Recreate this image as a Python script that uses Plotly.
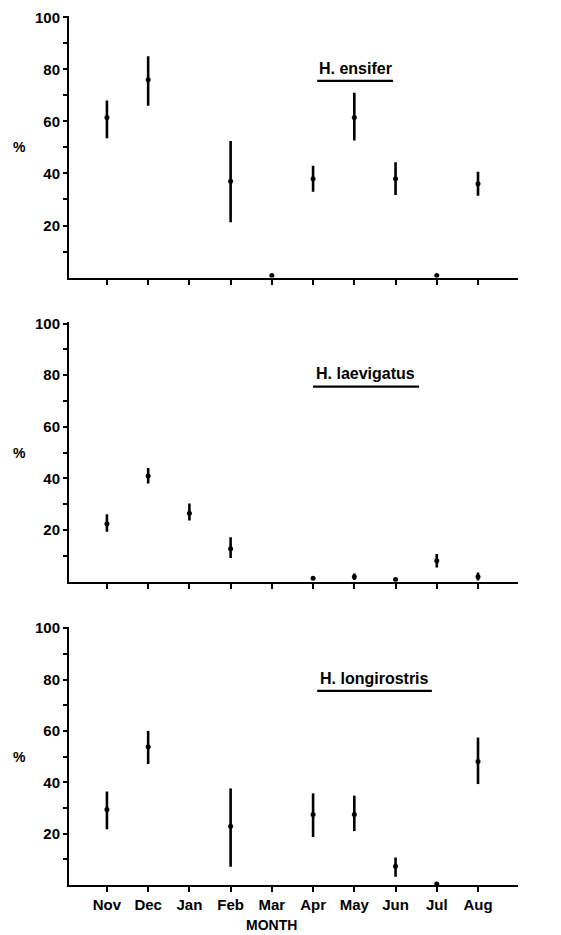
import plotly.graph_objects as go
from plotly.subplots import make_subplots

months = ["Nov", "Dec", "Jan", "Feb", "Mar", "Apr", "May", "Jun", "Jul", "Aug"]
y_ticks = [20, 40, 60, 80, 100]

species = ["H. ensifer", "H. laevigatus", "H. longirostris"]

ensifer_val = [61.5, 76, None, 37, 0.8, 38, 61.5, 38, 0.8, 36]
ensifer_up = [6.5, 9, None, 15.5, 0, 5, 9.5, 6.3, 0, 4.7]
ensifer_dn = [8, 10, None, 15.7, 0, 5, 8.8, 6.3, 0, 4.6]

laevigatus_val = [22.5, 41, 26.5, 12.8, None, 1.3, 1.9, 0.9, 8.1, 1.9]
laevigatus_up = [3.6, 3.1, 3.8, 4.4, None, 0, 1.3, 0, 2.6, 1.7]
laevigatus_dn = [3.1, 2.9, 2.8, 3.6, None, 0, 1.2, 0, 2.6, 1.4]

longirostris_val = [29.4, 53.8, None, 22.9, None, 27.5, 27.5, 7.3, 0.4, 48.1]
longirostris_up = [7, 6.2, None, 14.7, None, 8.2, 7.3, 3.4, 0, 9.3]
longirostris_dn = [7.7, 6.7, None, 15.8, None, 8.8, 6.5, 4.1, 0, 8.8]

# label / underline placement (x in month-index units, y in %)
label_x = [6.02, 6.27, 6.5]
underline_x0 = [5.1, 5.0, 5.1]
underline_x1 = [6.94, 7.57, 7.88]

series = [
    (ensifer_val, ensifer_up, ensifer_dn),
    (laevigatus_val, laevigatus_up, laevigatus_dn),
    (longirostris_val, longirostris_up, longirostris_dn),
]

FONT = "Liberation Sans, Arial, Helvetica, sans-serif"

fig = make_subplots(rows=3, cols=1, shared_xaxes=False, vertical_spacing=0.05)

domains = [[0.699, 1.0], [0.349, 0.6475], [0.0, 0.297]]

for i, (vals, up, dn) in enumerate(series):
    r = i + 1
    fig.add_trace(
        go.Scatter(
            x=months, y=vals, mode="markers",
            marker=dict(color="black", size=5),
            error_y=dict(type="data", symmetric=False, array=up, arrayminus=dn,
                         color="black", thickness=2.6, width=0),
            showlegend=False,
        ),
        row=r, col=1,
    )
    xa = "x" if r == 1 else f"x{r}"
    ya = "y" if r == 1 else f"y{r}"
    fig.add_annotation(
        x=label_x[i], y=80.5, xref=xa, yref=ya, text=species[i],
        showarrow=False, font=dict(family=FONT, size=16, color="black", weight="bold"),
        xanchor="center", yanchor="middle",
    )
    fig.add_shape(
        type="line", xref=xa, yref=ya,
        x0=underline_x0[i], x1=underline_x1[i], y0=75.6, y1=75.6,
        line=dict(color="black", width=2.2),
    )
    fig.add_annotation(
        x=-0.11, y=50, xref="paper", yref=ya, text="%",
        showarrow=False, font=dict(family=FONT, size=14, color="black", weight="bold"),
        xanchor="center", yanchor="middle",
    )
    fig.update_yaxes(
        row=r, col=1, domain=domains[i], range=[0, 100.5],
        tickvals=y_ticks, ticktext=[str(v) for v in y_ticks],
        ticks="outside", ticklen=4, tickwidth=1.5, tickcolor="black",
        showline=True, linecolor="black", linewidth=2,
        showgrid=False, zeroline=False,
        tickfont=dict(family=FONT, size=15, color="black", weight="bold"),
        minor=dict(tickvals=[10, 30, 50, 70, 90], ticks="outside", ticklen=4,
                   tickwidth=1.5, tickcolor="black"),
    )
    fig.update_xaxes(
        row=r, col=1, type="category", categoryorder="array", categoryarray=months,
        range=[-0.92, 9.97], tickvals=months,
        ticktext=months if r == 3 else [""] * len(months),
        showticklabels=(r == 3),
        ticks="outside", ticklen=5, tickwidth=1.5, tickcolor="black",
        showline=True, linecolor="black", linewidth=2,
        showgrid=False, zeroline=False,
        tickfont=dict(family=FONT, size=15, color="black", weight="bold"),
    )

fig.add_annotation(
    x="Mar", y=-0.046, xref="x3", yref="paper", text="MONTH",
    showarrow=False, font=dict(family=FONT, size=14, color="black", weight="bold"),
    xanchor="center", yanchor="middle",
)

fig.update_layout(
    width=561, height=935,
    margin=dict(l=69, r=43, t=9, b=50),
    paper_bgcolor="white", plot_bgcolor="white",
    font=dict(family=FONT, color="black"),
)

fig.write_html(
    "out.html",
    config={"displayModeBar": False},
    post_script="document.body.style.margin='0';document.body.style.overflow='hidden';",
)
